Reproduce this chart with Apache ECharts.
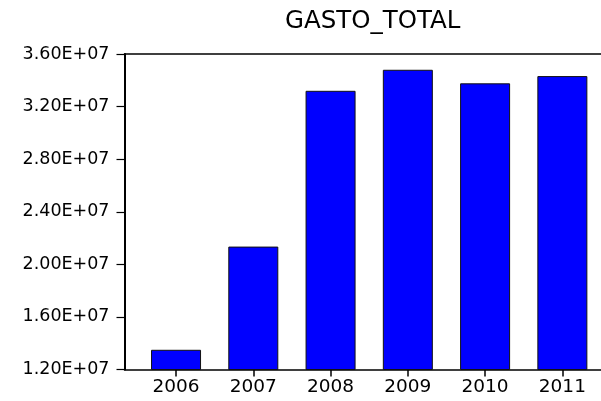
<!DOCTYPE html>
<html>
<head>
<meta charset="utf-8">
<script src="https://cdn.jsdelivr.net/npm/echarts@6/dist/echarts.min.js"></script>
<style>
  html, body { margin: 0; padding: 0; background: #fff; }
  #chart { width: 601px; height: 401px; }
</style>
</head>
<body>
<div id="chart"></div>
<script>
// Annual total spending
const titleText = 'GASTO_TOTAL';
const years = [2006, 2007, 2008, 2009, 2010, 2011];
const gastoTotal = [13500000, 21350000, 33200000, 34800000, 33770000, 34320000];
const yTicks = [12000000, 16000000, 20000000, 24000000, 28000000, 32000000, 36000000];

const FONT = 'DejaVu Sans';

const chart = echarts.init(document.getElementById('chart'), null, { renderer: 'canvas' });

chart.setOption({
  animation: false,
  backgroundColor: '#ffffff',
  title: {
    text: titleText,
    left: 285,
    top: 9,
    padding: 0,
    textStyle: { fontFamily: FONT, fontSize: 24.5, fontWeight: 'normal', color: '#000' }
  },
  grid: { left: 124.5, right: -0.5, top: 54, bottom: 31.5, containLabel: false },
  xAxis: [
    {
      type: 'value',
      position: 'bottom',
      min: 2005.333,
      max: 2011.5,
      splitLine: { show: false },
      axisLine: { show: true, onZero: false, lineStyle: { color: '#000', width: 1.5 } },
      axisTick: {
        show: true, customValues: years, length: 7, inside: false,
        lineStyle: { color: '#000', width: 1.5 }
      },
      axisLabel: {
        customValues: years,
        margin: 8,
        fontFamily: FONT, fontSize: 18.5, color: '#000',
        formatter: v => String(Math.round(v))
      }
    },
    {
      type: 'value',
      position: 'top',
      min: 2005.333,
      max: 2011.5,
      splitLine: { show: false },
      axisLine: { show: true, onZero: false, lineStyle: { color: '#000', width: 1.5 } },
      axisTick: { show: false },
      axisLabel: { show: false }
    }
  ],
  yAxis: {
    type: 'value',
    min: yTicks[0],
    max: yTicks[yTicks.length - 1],
    interval: yTicks[1] - yTicks[0],
    splitLine: { show: false },
    axisLine: { show: true, onZero: false, lineStyle: { color: '#000', width: 2 } },
    axisTick: { show: true, length: 8, lineStyle: { color: '#000', width: 1.2 } },
    axisLabel: {
      margin: 15,
      fontFamily: FONT, fontSize: 17.5, color: '#000',
      formatter: v => (v / 1e7).toFixed(2) + 'E+07'
    }
  },
  series: [
    {
      type: 'bar',
      xAxisIndex: 0,
      barWidth: 50,
      data: years.map((y, i) => [y, gastoTotal[i]]),
      itemStyle: { color: '#0000ff', borderColor: '#111111', borderWidth: 1 }
    }
  ]
});
</script>
</body>
</html>
